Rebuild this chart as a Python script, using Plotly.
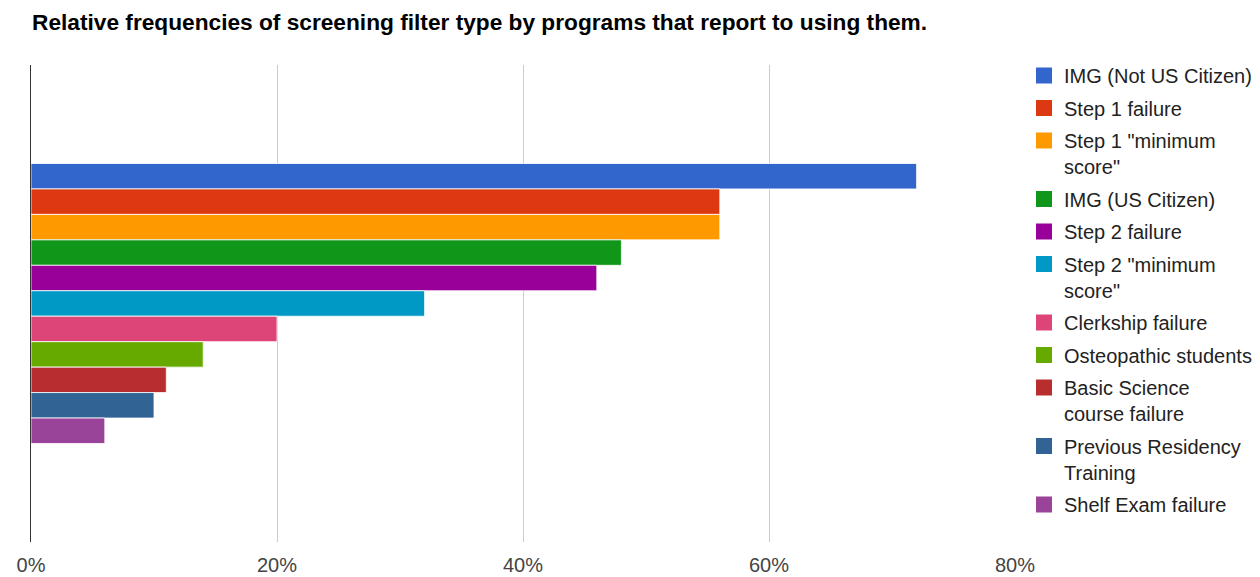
import plotly.graph_objects as go

categories = [
    "IMG (Not US Citizen)",
    "Step 1 failure",
    "Step 1 \"minimum<br>score\"",
    "IMG (US Citizen)",
    "Step 2 failure",
    "Step 2 \"minimum<br>score\"",
    "Clerkship failure",
    "Osteopathic students",
    "Basic Science<br>course failure",
    "Previous Residency<br>Training",
    "Shelf Exam failure",
]
values = [72, 56, 56, 48, 46, 32, 20, 14, 11, 10, 6]
colors = ["#3366cc", "#dc3912", "#ff9900", "#109618", "#990099", "#0099c6",
          "#dd4477", "#66aa00", "#b82e2e", "#316395", "#994499"]
tick_vals = [0, 20, 40, 60, 80]
tick_text = ["0%", "20%", "40%", "60%", "80%"]

FONT = "Liberation Sans, Arial, sans-serif"

fig = go.Figure()
for name, v, c in zip(categories, values, colors):
    fig.add_trace(go.Bar(
        x=[v], y=[""], name=name, orientation="h",
        marker=dict(color=c, line=dict(color="rgba(255,255,255,0.8)", width=1)),
        legendgroup=name, showlegend=False,
    ))
# legend entries (square swatches)
for name, c in zip(categories, colors):
    fig.add_trace(go.Scatter(
        x=[None], y=[None], mode="markers", name=name,
        marker=dict(symbol="square", size=16, color=c),
        legendgroup=name, showlegend=True,
    ))

fig.update_layout(
    width=1260, height=577,
    margin=dict(l=31, r=245, t=65, b=35, autoexpand=False),
    paper_bgcolor="white", plot_bgcolor="white",
    barmode="group", bargap=0.413, bargroupgap=0,
    title=dict(
        text="<b>Relative frequencies of screening filter type by programs that report to using them.</b>",
        x=32 / 1260, xanchor="left", y=1 - 22 / 577, yanchor="middle",
        font=dict(family=FONT, size=22.7, color="#000"),
    ),
    font=dict(family=FONT, size=20, color="#222"),
    xaxis=dict(
        range=[0, 80], tickvals=tick_vals, ticktext=tick_text,
        showgrid=True, gridcolor="#cccccc", gridwidth=1,
        zeroline=False, showline=False, ticks="",
        tickfont=dict(family=FONT, size=20, color="#444"),
        ticklabelstandoff=9, fixedrange=True, automargin=False,
    ),
    yaxis=dict(
        type="category", range=[0.5, -0.5], showticklabels=False,
        showgrid=False, zeroline=False, showline=True,
        linecolor="#333333", linewidth=1, ticks="", automargin=False,
    ),
    legend=dict(
        x=1.0 + 9 / 984, xanchor="left", y=1.0 + 9 / 477, yanchor="top",
        font=dict(family=FONT, size=20, color="#222"),
        tracegroupgap=3.5, bgcolor="rgba(0,0,0,0)",
        traceorder="grouped", maxheight=570, valign="top",
    ),
    showlegend=True,
)

fig.write_html("out.html")
